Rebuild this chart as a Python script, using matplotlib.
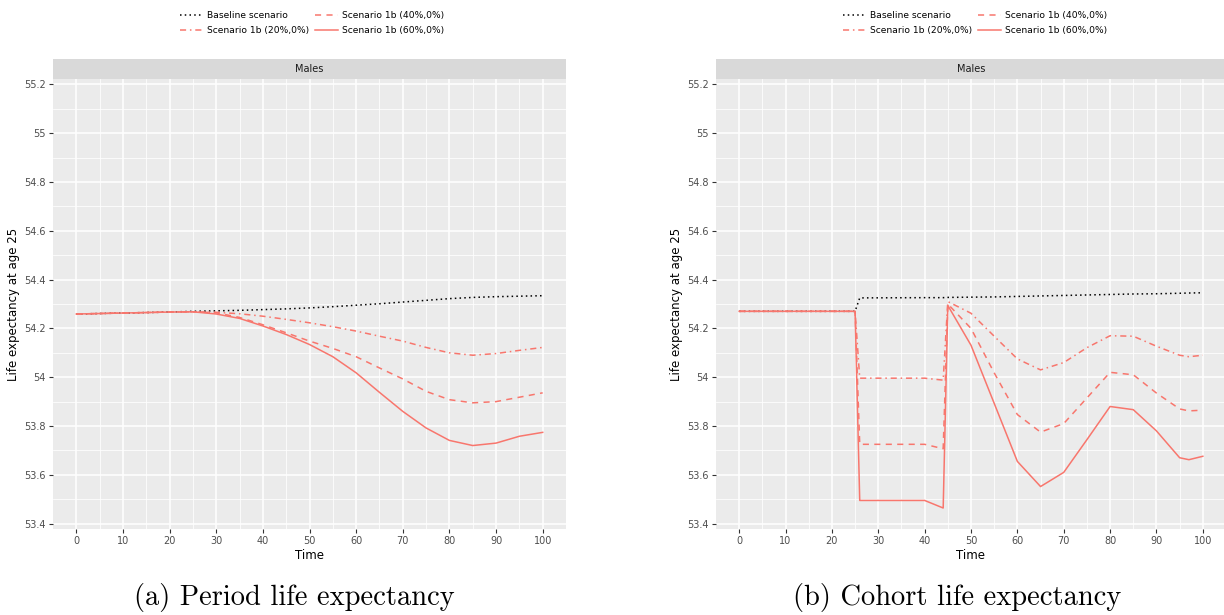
import numpy as np
import matplotlib
matplotlib.use('Agg')
import matplotlib.pyplot as plt
from matplotlib.lines import Line2D
from matplotlib.ticker import FixedLocator

# period life expectancy (panel a)
t_period = [0, 10, 20, 25, 30, 35, 40, 45, 50, 55, 60, 65, 70, 75, 80, 85, 90, 95, 100]
period_base = [54.259, 54.263, 54.267, 54.270, 54.272, 54.274, 54.277, 54.280, 54.284, 54.289,
               54.295, 54.301, 54.308, 54.315, 54.322, 54.327, 54.330, 54.332, 54.334]
period_20 = [54.259, 54.263, 54.267, 54.268, 54.266, 54.260, 54.250, 54.237, 54.223, 54.207,
             54.189, 54.168, 54.148, 54.122, 54.100, 54.090, 54.097, 54.110, 54.122]
period_40 = [54.259, 54.263, 54.267, 54.268, 54.264, 54.245, 54.215, 54.182, 54.148, 54.118,
             54.084, 54.038, 53.993, 53.942, 53.908, 53.895, 53.900, 53.918, 53.936]
period_60 = [54.259, 54.263, 54.267, 54.268, 54.259, 54.241, 54.210, 54.175, 54.134, 54.084,
             54.018, 53.938, 53.860, 53.792, 53.741, 53.720, 53.730, 53.758, 53.774]

# cohort life expectancy (panel b)
t_cohort = [0, 25, 26, 40, 44, 45, 50, 55, 60, 65, 70, 75, 80, 85, 90, 95, 97, 100]
cohort_base = [54.270, 54.270, 54.325, 54.326, 54.326, 54.327, 54.328, 54.329, 54.331, 54.333,
               54.335, 54.337, 54.339, 54.341, 54.342, 54.344, 54.345, 54.346]
cohort_20 = [54.270, 54.270, 53.996, 53.996, 53.988, 54.310, 54.262, 54.168, 54.075, 54.030,
             54.060, 54.121, 54.170, 54.168, 54.127, 54.090, 54.084, 54.090]
cohort_40 = [54.270, 54.270, 53.725, 53.725, 53.707, 54.300, 54.200, 54.018, 53.847, 53.775,
             53.810, 53.915, 54.020, 54.010, 53.935, 53.870, 53.862, 53.865]
cohort_60 = [54.270, 54.270, 53.495, 53.495, 53.464, 54.294, 54.131, 53.893, 53.655, 53.552,
             53.610, 53.744, 53.880, 53.867, 53.780, 53.670, 53.662, 53.676]

labels = ['Baseline scenario', 'Scenario 1b (20%,0%)', 'Scenario 1b (40%,0%)', 'Scenario 1b (60%,0%)']
captions = ['(a) Period life expectancy', '(b) Cohort life expectancy']
y_ticks = [53.4, 53.6, 53.8, 54.0, 54.2, 54.4, 54.6, 54.8, 55.0, 55.2]
x_ticks = [0, 10, 20, 30, 40, 50, 60, 70, 80, 90, 100]

RED = '#F8766D'
styles = [
    dict(color='black', linestyle=(0, (1, 2.1))),
    dict(color=RED, linestyle=(0, (4, 2.5, 1, 2.5))),
    dict(color=RED, linestyle=(0, (4, 3.5))),
    dict(color=RED, linestyle='-'),
]

W, H = 1224, 615
fig = plt.figure(figsize=(W / 100, H / 100), dpi=100)


def draw_panel(left_px, width_px, t, series, caption):
    ax = fig.add_axes([left_px / W, 1 - 529 / H, width_px / W, 450 / H])
    ax.set_facecolor('#EBEBEB')
    for vals, st in zip(series, styles):
        ax.plot(t, vals, lw=1.1, **st)
    ax.set_xlim(-5, 105)
    ax.set_ylim(53.378, 55.222)
    ax.set_xticks(x_ticks)
    ax.set_yticks(y_ticks)
    ax.set_yticklabels([f'{v:g}' for v in y_ticks])
    ax.xaxis.set_minor_locator(FixedLocator(np.arange(5, 100, 10)))
    ax.yaxis.set_minor_locator(FixedLocator(np.arange(53.5, 55.2, 0.2)))
    ax.grid(which='major', color='white', lw=1.1)
    ax.grid(which='minor', color='white', lw=0.55)
    ax.set_axisbelow(True)
    for s in ax.spines.values():
        s.set_visible(False)
    ax.tick_params(which='major', length=3, width=0.8, color='#333333',
                   labelsize=7, labelcolor='#4D4D4D', pad=2)
    ax.tick_params(which='minor', length=0)
    ax.set_xlabel('Time', fontsize=8.5, labelpad=2)
    ax.set_ylabel('Life expectancy at age 25', fontsize=8.5, labelpad=3)

    # facet strip
    strip = fig.add_axes([left_px / W, 1 - 79 / H, width_px / W, 20 / H])
    strip.set_facecolor('#D9D9D9')
    strip.set_xticks([])
    strip.set_yticks([])
    for s in strip.spines.values():
        s.set_visible(False)
    strip.text(0.5, 0.5, 'Males', ha='center', va='center', fontsize=7, color='#1A1A1A',
               transform=strip.transAxes)

    handles = [Line2D([], [], lw=1.1, **st) for st in styles]
    fig.legend(handles, labels, loc='upper center', ncol=2, frameon=False,
               bbox_to_anchor=((left_px + 259) / W, 1 - 3 / H), fontsize=6.6,
               handlelength=2.5, handletextpad=0.5, columnspacing=0.6, labelspacing=0.65)

    fig.text((left_px + 241) / W, 1 - 598 / H, caption, ha='center', va='center',
             fontsize=20.5, family='cmr10')


draw_panel(53, 513, t_period, [period_base, period_20, period_40, period_60], captions[0])
draw_panel(716, 510, t_cohort, [cohort_base, cohort_20, cohort_40, cohort_60], captions[1])

fig.savefig('out.png', dpi=100)
